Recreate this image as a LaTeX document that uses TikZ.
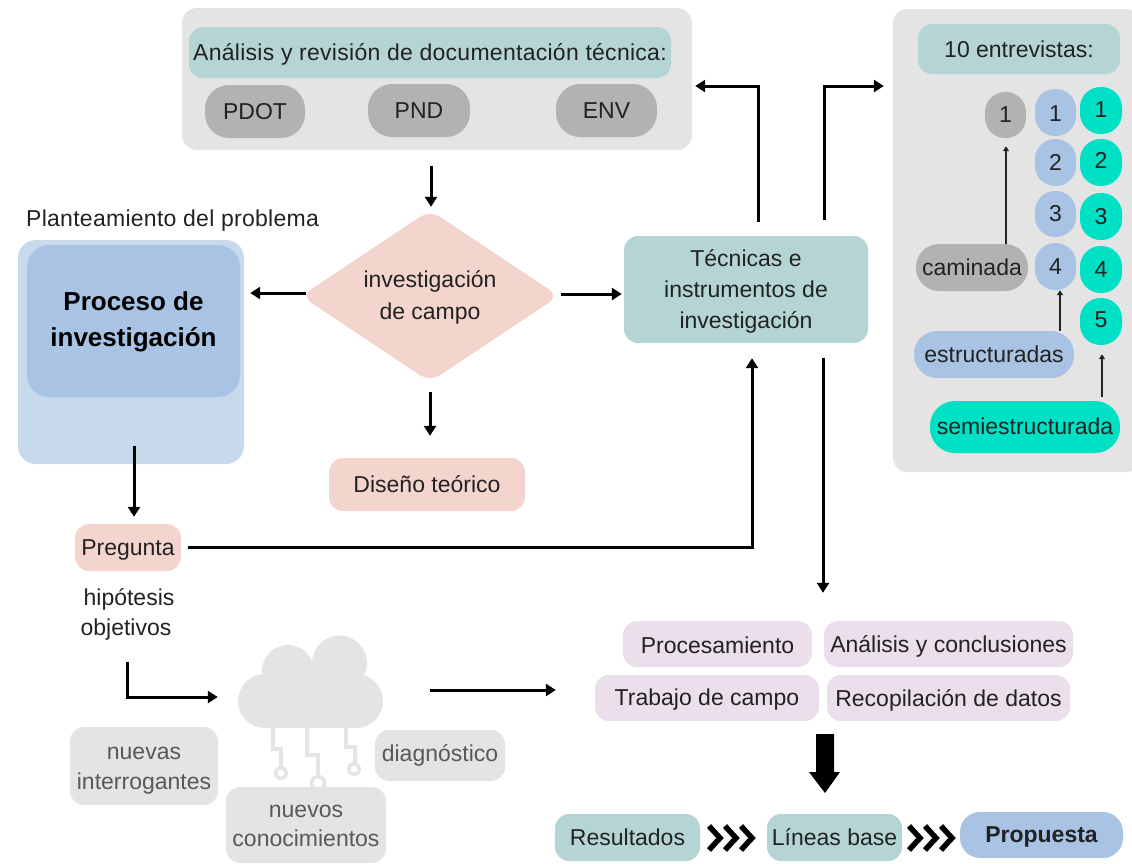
\documentclass[tikz,border=0pt]{standalone}
\usepackage{fontspec}
\setmainfont{Liberation Sans}
\usetikzlibrary{arrows.meta,shapes.geometric}
\definecolor{panelgray}{HTML}{E4E4E4}
\definecolor{midgray}{HTML}{B2B2B2}
\definecolor{tealbox}{HTML}{B5D4D4}
\definecolor{salmon}{HTML}{F4D5CD}
\definecolor{bluebox}{HTML}{A9C3E4}
\definecolor{lightblue}{HTML}{C9D9EC}
\definecolor{aqua}{HTML}{00E0C4}
\definecolor{lilac}{HTML}{EADFEA}
\definecolor{ink}{HTML}{222222}
\definecolor{softink}{HTML}{595959}
\tikzset{
  x=1pt,y=-1pt,
  txt/.style={text=ink,align=center,font=\fontsize{23}{31}\selectfont,inner sep=0pt},
  widetxt/.style={font=\fontsize{23}{31}\selectfont\addfontfeature{LetterSpace=1.2}},
  arr/.style={draw=black,line width=3pt,-{Triangle[length=10pt,width=12pt]}},
  thinarr/.style={draw=ink,line width=1.6pt,-{Triangle[length=5pt,width=6pt]}},
  chev/.style={draw=black,line width=5.5pt,miter limit=10},
  circuit/.style={draw=panelgray,line width=3.5pt},
}
% name, x1, y1, x2, y2, fill, radius, text options, text
\newcommand\bx[9]{%
  \node[inner sep=0pt,fill=#6,rounded corners=#7pt,minimum width={(#4-(#2))*1pt},minimum height={(#5-(#3))*1pt}]
    (#1) at ({(#2+#4)/2},{(#3+#5)/2}) {};
  \node[txt,#8] (#1t) at (#1.center) {#9};}
\begin{document}
\begin{tikzpicture}
\useasboundingbox (0,0) rectangle (1132,863);
% panels
\bx{docp}{182}{8}{692}{150}{panelgray}{15}{}{}
\bx{ent}{893}{9}{1140}{472}{panelgray}{14}{}{}
\bx{doct}{189}{27}{671}{78}{tealbox}{14}{yshift=-2pt,widetxt}{Análisis y revisión de documentación técnica:}
\bx{pdot}{205}{85}{305}{138}{midgray}{24}{}{PDOT}
\bx{pnd}{368}{84}{470}{137}{midgray}{24}{}{PND}
\bx{env}{556}{84}{657}{137}{midgray}{24}{}{ENV}
% problem
\node[txt,anchor=west,widetxt] (plan) at (26,221) {Planteamiento del problema};
\bx{pp}{18}{240}{244}{464}{lightblue}{18}{}{}
\bx{ppi}{27}{245}{240}{397}{bluebox}{22}{yshift=-1pt,font=\fontsize{26}{36}\selectfont\bfseries,text=black}{Proceso de\\investigación}
% diamond
\node[txt,shape=diamond,fill=salmon,rounded corners=12pt,aspect=1.5,minimum width=258pt,minimum height=172pt] (dia) at (430,296) {};
\node[txt,font=\fontsize{23}{32}\selectfont,yshift=-1.5pt] (diat) at (dia.center) {investigación\\de campo};
\bx{tec}{624}{236}{868}{343}{tealbox}{14}{yshift=-1.5pt}{Técnicas e\\instrumentos de\\investigación}
\bx{dis}{329}{458}{525}{511}{salmon}{14}{}{Diseño teórico}
\bx{preg}{75}{524}{181}{571}{salmon}{14}{yshift=-2pt}{Pregunta}
\node[txt] (hip) at (129,599) {hipótesis};
\node[txt] (obj) at (126,630) {objetivos};
% interviews
\bx{ten}{918}{24}{1120}{74}{tealbox}{14}{}{10 entrevistas:}
\bx{g1}{985}{92}{1026}{138}{midgray}{20}{}{1}
\bx{b1}{1035}{89}{1076}{136}{bluebox}{20}{yshift=-1pt}{1}
\bx{b2}{1035}{139}{1076}{186}{bluebox}{20}{}{2}
\bx{b3}{1035}{191}{1076}{237}{bluebox}{20}{}{3}
\bx{b4}{1035}{243}{1076}{290}{bluebox}{20}{}{4}
\bx{t1}{1080}{87}{1122}{134}{aqua}{20.5}{yshift=1pt}{1}
\bx{t2}{1080}{139}{1122}{186}{aqua}{20.5}{yshift=2pt}{2}
\bx{t3}{1080}{193}{1122}{240}{aqua}{20.5}{}{3}
\bx{t4}{1080}{246}{1122}{293}{aqua}{20.5}{}{4}
\bx{t5}{1080}{298}{1122}{345}{aqua}{20.5}{yshift=2pt}{5}
\bx{cam}{916}{244}{1028}{291}{midgray}{23}{}{caminada}
\bx{est}{914}{331}{1074}{378}{bluebox}{23}{}{estructuradas}
\bx{semi}{930}{401}{1120}{453}{aqua}{25}{yshift=1pt}{semiestructurada}
% cloud
\node[inner sep=0pt,minimum width=145pt,minimum height=93pt] (cloud) at (310.5,681.5) {};
\fill[panelgray] (265,701) circle[radius=27] (356,701) circle[radius=27] (288,671) circle[radius=26] (339.5,663) circle[radius=27.5];
\fill[panelgray] (264,672) rectangle (360,728);
\draw[circuit] (273,726) -- (273,749) -- (281,749) -- (281,767);
\draw[circuit] (281,773) circle[radius=5.5];
\draw[circuit] (307,726) -- (307,755) -- (318,755) -- (318,777);
\draw[circuit] (318,783) circle[radius=6.5];
\draw[circuit] (346,726) -- (346,747) -- (355,747) -- (355,763);
\draw[circuit] (354,769) circle[radius=5.5];
\bx{nin}{70}{727}{218}{805}{panelgray}{14}{text=softink,font=\fontsize{23}{30}\selectfont,yshift=-4.5pt}{nuevas\\interrogantes}
\bx{ncon}{226}{787}{386}{863}{panelgray}{14}{text=softink,font=\fontsize{23}{29}\selectfont,yshift=-1pt}{nuevos\\conocimientos}
\bx{diag}{375}{730}{505}{781}{panelgray}{14}{text=softink}{diagnóstico}
% lilac
\bx{proc}{623}{621}{812}{667}{lilac}{14}{yshift=-1pt}{Procesamiento}
\bx{ana}{824}{621}{1073}{667}{lilac}{14}{yshift=-2pt}{Análisis y conclusiones}
\bx{trab}{595}{675}{819}{721}{lilac}{14}{yshift=-2pt}{Trabajo de campo}
\bx{rec}{827}{675}{1070}{721}{lilac}{14}{yshift=-2pt}{Recopilación de datos}
% bottom
\bx{res}{555}{814}{700}{861}{tealbox}{14}{}{Resultados}
\bx{lin}{767}{814}{902}{861}{tealbox}{14}{}{Líneas base}
\bx{prop}{960}{812}{1123}{858}{bluebox}{20}{yshift=-2pt,font=\fontsize{23}{31}\selectfont\bfseries}{Propuesta}
% connectors
\draw[arr,shorten <=16pt,shorten >=3pt] ([xshift=-6pt]docp.south) -- ([xshift=-6pt]docp.south |- dia.north);
\draw[arr,shorten <=-5pt,shorten >=6pt] ([yshift=3pt]dia.west) -- ([yshift=3pt]dia.west -| pp.east);
\draw[arr,shorten <=2pt,shorten >=2pt] ([yshift=2pt]dia.east) -- ([yshift=2pt]dia.east -| tec.west);
\draw[arr,shorten <=10pt,shorten >=22pt] (dia.south) -- (dia.south |- dis.north);
\draw[arr,shorten <=-18pt,shorten >=7pt] ([xshift=3pt]pp.south) -- ([xshift=3pt]pp.south |- preg.north);
\draw[arr,shorten <=7pt,shorten >=15pt] (preg.east) -| ([xshift=6pt]tec.south);
\draw[arr,shorten <=21pt,shorten >=20pt] ([xshift=1pt]obj.south) |- ([yshift=-15.5pt]cloud.west);
\draw[arr,shorten <=47pt,shorten >=39pt] ([yshift=-8.5pt]cloud.east) -- ([yshift=-8.5pt]cloud.east -| trab.west);
\draw[arr,shorten <=14pt,shorten >=3pt] ([xshift=12pt]tec.north) |- ([yshift=-7pt]docp.east);
\draw[arr,shorten <=16pt,shorten >=9pt] ([xshift=78pt]tec.north) |- ([yshift=154.5pt]ent.west);
\draw[arr,shorten <=15pt,shorten >=28pt] ([xshift=77pt]tec.south) -- ([xshift=77pt]tec.south |- ana.north);
\draw[thinarr,shorten >=8pt] ([xshift=34pt]cam.north) -- ([xshift=34pt]cam.north |- g1.south);
\draw[thinarr] ([xshift=66pt]est.north) -- ([xshift=66pt]est.north |- b4.south);
\draw[thinarr,shorten <=4pt,shorten >=9pt] ([xshift=77pt]semi.north) -- ([xshift=77pt]semi.north |- t5.south);
% big arrow
\fill[black] (816,734) -- (834,734) -- (834,772) -- (840,772) -- (825,793) -- (809,772) -- (816,772) -- cycle;
% chevrons
\foreach \s in {0,16,32}{
  \draw[chev] (709+\s,826) -- (720+\s,838) -- (709+\s,850);
  \draw[chev] (909+\s,826) -- (920+\s,838) -- (909+\s,850);
}
\end{tikzpicture}
\end{document}
